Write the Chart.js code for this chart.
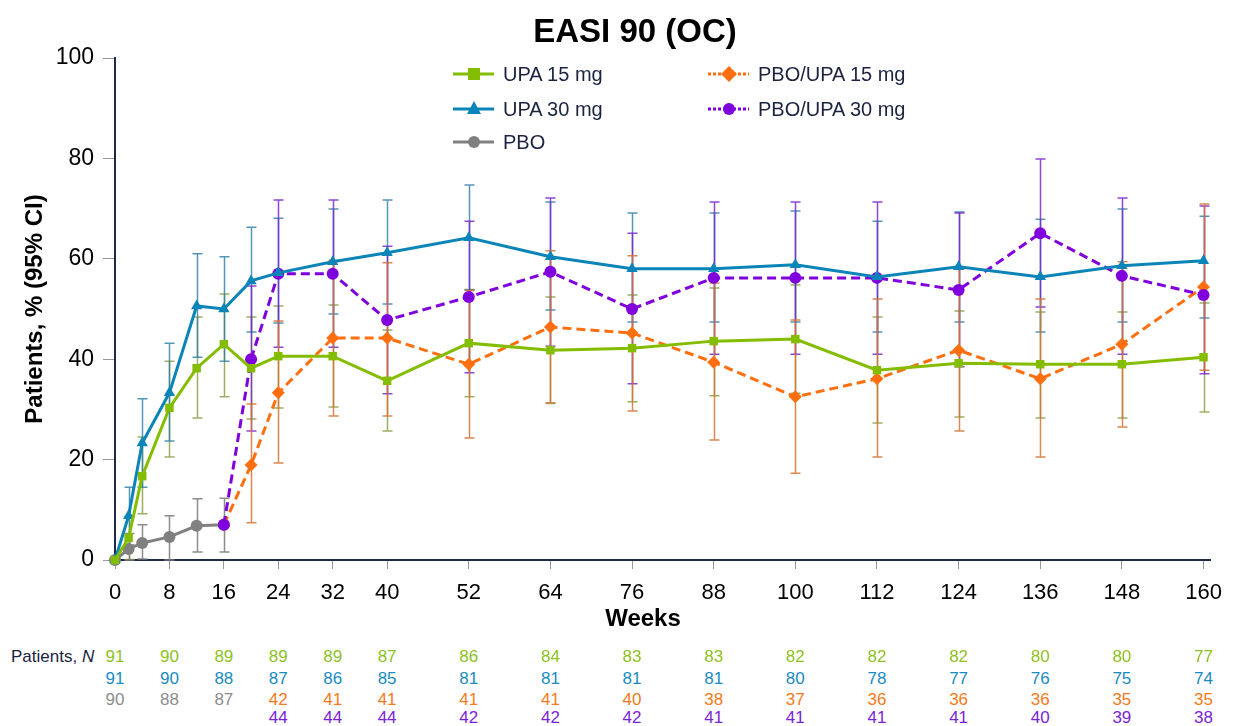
<!DOCTYPE html>
<html>
<head>
<meta charset="utf-8">
<title>EASI 90 (OC)</title>
<script src="https://cdn.jsdelivr.net/npm/chart.js@4.4.1/dist/chart.umd.min.js"></script>
<style>
  body { margin: 0; background: #fff; overflow: hidden; }
  #wrap { position: relative; width: 1233px; height: 726px; font-family: "Liberation Sans", Arial, sans-serif; color: #1b2340; }
  #chart { position: absolute; left: 0; top: 0; }
  .abs { position: absolute; white-space: nowrap; }
  #title { left: 635px; top: 12px; transform: translateX(-50%); font-size: 33px; font-weight: bold; color: #000; }
  #weeks { left: 643px; top: 604px; transform: translateX(-50%); font-size: 24px; font-weight: bold; color: #000; }
  .leg { font-size: 20px; display: flex; align-items: center; height: 24px; }
  .leg svg { margin-right: 8px; }
  .n { font-size: 17px; transform: translateX(-50%); }
  #nlabel { left: 11px; top: 647px; font-size: 17px; }
</style>
</head>
<body>
<div id="wrap">
  <canvas id="chart" width="1233" height="640"></canvas>
  <div id="title" class="abs">EASI 90 (OC)</div>
  <div id="weeks" class="abs">Weeks</div>
  <div id="legend"></div>
  <div id="nlabel" class="abs">Patients, <i>N</i></div>
  <div id="ntable"></div>
</div>
<script>
// x positions (weeks)
const upaWeeks = [0, 2, 4, 8, 12, 16, 20, 24, 32, 40, 52, 64, 76, 88, 100, 112, 124, 136, 148, 160];
const pboWeeks = [0, 2, 4, 8, 12, 16];
const switchWeeks = [16, 20, 24, 32, 40, 52, 64, 76, 88, 100, 112, 124, 136, 148, 160];
const tickWeeks = [0, 8, 16, 24, 32, 40, 52, 64, 76, 88, 100, 112, 124, 136, 148, 160];

// % patients and 95% CI
const upa15 = [0, 4.4, 16.7, 30.3, 38.2, 43.0, 38.2, 40.6, 40.6, 35.7, 43.2, 41.8, 42.2, 43.6, 44.0, 37.8, 39.2, 39.0, 39.0, 40.4];
const upa15Low = [null, 0.1, 9.2, 20.5, 28.3, 32.5, 28.1, 30.3, 30.5, 25.7, 32.5, 31.2, 31.5, 32.7, 33.2, 27.3, 28.5, 28.3, 28.3, 29.5];
const upa15High = [null, 8.7, 24.5, 39.6, 48.4, 53.0, 48.4, 50.6, 50.8, 45.8, 53.9, 52.4, 52.8, 54.2, 54.8, 48.4, 49.6, 49.4, 49.4, 51.2];

const upa30 = [0, 8.8, 23.3, 33.3, 50.6, 50.0, 55.6, 57.2, 59.4, 61.2, 64.2, 60.4, 58.0, 58.0, 58.8, 56.4, 58.4, 56.4, 58.6, 59.6];
const upa30Low = [null, 3.0, 14.5, 23.7, 40.4, 39.6, 45.4, 47.2, 49.0, 51.0, 53.8, 49.8, 47.4, 47.4, 47.4, 45.4, 47.4, 45.4, 47.4, 48.2];
const upa30High = [null, 14.5, 32.1, 43.2, 61.0, 60.4, 66.3, 68.1, 69.9, 71.7, 74.7, 71.3, 69.1, 69.1, 69.5, 67.5, 69.3, 67.9, 69.9, 68.5];

const pbo = [0, 2.2, 3.4, 4.6, 6.8, 7.0];
const pboLow = [null, 0, 0.2, 0, 1.6, 1.6];
const pboHigh = [null, 5.3, 7.0, 8.8, 12.2, 12.3];

const pboUpa15 = [7.0, 18.9, 33.3, 44.2, 44.2, 39.0, 46.4, 45.2, 39.4, 32.5, 36.1, 41.8, 36.1, 43.0, 54.4];
const pboUpa15Low = [null, 7.4, 19.3, 28.7, 28.7, 24.3, 31.3, 29.7, 23.9, 17.3, 20.5, 25.7, 20.5, 26.5, 37.8];
const pboUpa15High = [null, 31.1, 47.6, 59.7, 59.2, 53.7, 61.6, 60.6, 55.2, 47.8, 52.0, 57.9, 52.0, 59.4, 70.9];

const pboUpa30 = [7.0, 40.0, 57.0, 57.0, 47.8, 52.4, 57.4, 50.0, 56.2, 56.2, 56.2, 53.8, 65.1, 56.6, 52.8];
const pboUpa30Low = [null, 25.7, 42.4, 42.4, 33.1, 37.3, 42.6, 35.1, 41.0, 41.0, 41.0, 38.5, 50.4, 41.0, 37.1];
const pboUpa30High = [null, 54.6, 71.7, 71.7, 62.5, 67.5, 72.1, 65.1, 71.3, 71.3, 71.3, 69.1, 79.9, 72.1, 70.5];

// patients at risk
const nUpa15 = [91, 90, 89, 89, 89, 87, 86, 84, 83, 83, 82, 82, 82, 80, 80, 77];
const nUpa30 = [91, 90, 88, 87, 86, 85, 81, 81, 81, 81, 80, 78, 77, 76, 75, 74];
const nPbo = [90, 88, 87];
const nPboUpa15 = [42, 41, 41, 41, 41, 40, 38, 37, 36, 36, 36, 35, 35];
const nPboUpa30 = [44, 44, 44, 42, 42, 42, 41, 41, 41, 41, 40, 39, 38];

const GREEN = '#84bd00', BLUE = '#0b84b8', GRAY = '#808080', ORANGE = '#ff6f10', PURPLE = '#7f00dc';
const NAVY = '#1f2a4a';

function pts(weeks, vals) { return weeks.map((w, i) => ({ x: w, y: vals[i] })); }

// draws the 95% CI whiskers under the lines
const errorBars = {
  id: 'errorBars',
  beforeDatasetsDraw(chart) {
    const { ctx, scales: { x, y } } = chart;
    chart.data.datasets.forEach(ds => {
      if (!ds.ciLow) return;
      ctx.save();
      ctx.strokeStyle = ds.ciColor;
      ctx.lineWidth = 1.5;
      ds.data.forEach((p, j) => {
        const lo = ds.ciLow[j], hi = ds.ciHigh[j];
        if (lo == null || hi == null) return;
        const px = Math.round(x.getPixelForValue(p.x)) + 0.5;
        const y1 = y.getPixelForValue(lo), y2 = y.getPixelForValue(hi);
        ctx.beginPath();
        ctx.moveTo(px, y1); ctx.lineTo(px, y2);
        ctx.moveTo(px - 5, y1); ctx.lineTo(px + 5, y1);
        ctx.moveTo(px - 5, y2); ctx.lineTo(px + 5, y2);
        ctx.stroke();
      });
      ctx.restore();
    });
  }
};

const chart = new Chart(document.getElementById('chart'), {
  type: 'line',
  data: {
    datasets: [
      { label: 'UPA 15 mg', data: pts(upaWeeks, upa15), ciLow: upa15Low, ciHigh: upa15High, ciColor: 'rgba(130,155,60,0.8)',
        borderColor: GREEN, backgroundColor: GREEN, pointStyle: 'rect', pointRadius: 6 },
      { label: 'UPA 30 mg', data: pts(upaWeeks, upa30), ciLow: upa30Low, ciHigh: upa30High, ciColor: 'rgba(40,125,165,0.8)',
        borderColor: BLUE, backgroundColor: BLUE, pointStyle: 'triangle', pointRadius: 6.5 },
      { label: 'PBO/UPA 30 mg', data: pts(switchWeeks, pboUpa30), ciLow: pboUpa30Low, ciHigh: pboUpa30High, ciColor: 'rgba(125,40,205,0.85)',
        borderColor: PURPLE, backgroundColor: PURPLE, pointStyle: 'circle', pointRadius: 6, borderDash: [9, 5] },
      { label: 'PBO/UPA 15 mg', data: pts(switchWeeks, pboUpa15), ciLow: pboUpa15Low, ciHigh: pboUpa15High, ciColor: 'rgba(215,115,50,0.85)',
        borderColor: ORANGE, backgroundColor: ORANGE, pointStyle: 'rectRot', pointRadius: 6.5, borderDash: [9, 5] },
      { label: 'PBO', data: pts(pboWeeks, pbo), ciLow: pboLow, ciHigh: pboHigh, ciColor: 'rgba(128,128,128,0.9)',
        borderColor: GRAY, backgroundColor: GRAY, pointStyle: 'circle', pointRadius: 6 }
    ]
  },
  options: {
    responsive: false,
    animation: false,
    layout: { padding: { left: 18, right: 21, top: 58, bottom: 0 } },
    datasets: { line: { borderWidth: 3, tension: 0, clip: false, pointBorderWidth: 0, pointHoverRadius: 6 } },
    plugins: { legend: { display: false }, tooltip: { enabled: false } },
    scales: {
      x: {
        type: 'linear', min: 0, max: 161,
        afterBuildTicks: s => { s.ticks = tickWeeks.map(v => ({ value: v })); },
        afterFit: s => { s.height = 80; },
        border: { color: NAVY, width: 2 },
        grid: { drawOnChartArea: false, color: '#999', tickLength: 9 },
        ticks: { color: '#000', padding: 11, maxRotation: 0, autoSkip: false, font: { size: 22, family: '"Liberation Sans", Arial' } }
      },
      y: {
        min: 0, max: 100,
        afterBuildTicks: s => { s.ticks = [0, 20, 40, 60, 80, 100].map(v => ({ value: v })); },
        afterFit: s => { s.width = 97; },
        border: { color: NAVY, width: 2 },
        grid: { drawOnChartArea: false, color: '#999', tickLength: 12 },
        ticks: { color: '#000', padding: 9, font: { size: 23, family: '"Liberation Sans", Arial' } },
        title: { display: true, text: 'Patients, % (95% CI)', color: '#000', padding: { top: 3, bottom: 0 },
          font: { size: 24, weight: 'bold', family: '"Liberation Sans", Arial' } }
      }
    }
  },
  plugins: [errorBars]
});

// legend (two columns, like the slide)
const legendItems = [
  { label: 'UPA 15 mg', color: GREEN, shape: 'rect', dash: false, left: 453, top: 62 },
  { label: 'UPA 30 mg', color: BLUE, shape: 'tri', dash: false, left: 453, top: 97 },
  { label: 'PBO', color: GRAY, shape: 'circle', dash: false, left: 453, top: 130 },
  { label: 'PBO/UPA 15 mg', color: ORANGE, shape: 'diamond', dash: true, left: 708, top: 62 },
  { label: 'PBO/UPA 30 mg', color: PURPLE, shape: 'circle', dash: true, left: 708, top: 97 }
];
function legendSymbol(it) {
  const line = `<line x1="0" y1="10" x2="41" y2="10" stroke="${it.color}" stroke-width="3" ${it.dash ? 'stroke-dasharray="3 2"' : ''}/>`;
  let mark = '';
  if (it.shape === 'rect') mark = `<rect x="15" y="4" width="12" height="12" fill="${it.color}"/>`;
  if (it.shape === 'tri') mark = `<polygon points="21,2 28,15 14,15" fill="${it.color}"/>`;
  if (it.shape === 'circle') mark = `<circle cx="21" cy="10" r="6" fill="${it.color}"/>`;
  if (it.shape === 'diamond') mark = `<polygon points="21,2 29,10 21,18 13,10" fill="${it.color}"/>`;
  return `<svg width="42" height="20">${line}${mark}</svg>`;
}
document.getElementById('legend').innerHTML = legendItems.map(it =>
  `<div class="abs leg" style="left:${it.left}px;top:${it.top}px">${legendSymbol(it)}<span>${it.label}</span></div>`
).join('');

// numbers at risk, aligned to the x scale
const xs = chart.scales.x;
const nRows = [
  { vals: nUpa15, weeks: tickWeeks, color: '#8dc21f', top: 647 },
  { vals: nUpa30, weeks: tickWeeks, color: '#1a8bc0', top: 669 },
  { vals: nPbo, weeks: tickWeeks.slice(0, 3), color: '#8c8c8c', top: 690 },
  { vals: nPboUpa15, weeks: tickWeeks.slice(3), color: '#f47a20', top: 690 },
  { vals: nPboUpa30, weeks: tickWeeks.slice(3), color: '#7b1fd8', top: 708 }
];
document.getElementById('ntable').innerHTML = nRows.map(r =>
  r.vals.map((v, i) =>
    `<div class="abs n" style="left:${xs.getPixelForValue(r.weeks[i])}px;top:${r.top}px;color:${r.color}">${v}</div>`
  ).join('')
).join('');
</script>
</body>
</html>
